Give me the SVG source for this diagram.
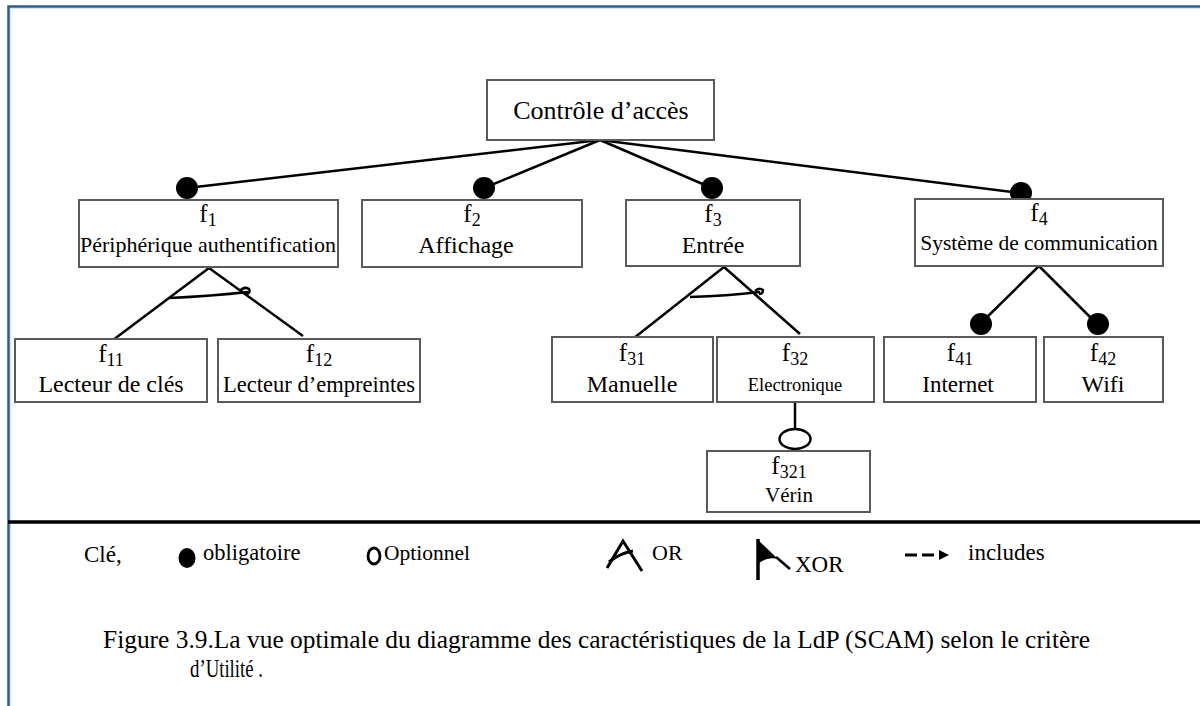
<svg xmlns="http://www.w3.org/2000/svg" width="1200" height="706" viewBox="0 0 1200 706">
  <style>
    .box { fill: #ffffff; stroke: #5a5a5a; stroke-width: 2; }
    .t { font-family: "Liberation Serif", "Times New Roman", serif; fill: #000; text-anchor: middle; }
    .f { font-size: 25px; }
    .sub { font-size: 18px; }
    .edge { stroke: #000; stroke-width: 2.5; fill: none; }
    .dot { fill: #000; }
    .leg { font-family: "Liberation Serif", "Times New Roman", serif; fill: #000; }
  </style>

  <!-- page frame -->
  <rect x="0" y="0" width="1200" height="706" fill="#ffffff"/>
  <path d="M8.5 706 V6.5 H1200" fill="none" stroke="#2f5996" stroke-width="2.5"/>
  <path d="M10.5 706 V8.5 H1200" fill="none" stroke="#d5e1f2" stroke-width="1"/>

  <!-- connectors -->
  <g id="connectors">
    <line class="edge" x1="600" y1="140" x2="187" y2="188"/>
    <line class="edge" x1="600" y1="140" x2="484" y2="188"/>
    <line class="edge" x1="600" y1="140" x2="712" y2="188"/>
    <line class="edge" x1="600" y1="140" x2="1020" y2="193"/>

    <!-- f1 OR group -->
    <line class="edge" x1="209" y1="268" x2="113" y2="340"/>
    <line class="edge" x1="209" y1="268" x2="303" y2="336"/>
    <path class="edge" d="M170 298 Q212 296 248 292"/>
    <path class="edge" stroke-width="2" d="M240 291 Q244 286 249 289 Q251 293 246 294"/>

    <!-- f3 OR group -->
    <line class="edge" x1="724" y1="267" x2="634" y2="338"/>
    <line class="edge" x1="724" y1="267" x2="800" y2="334"/>
    <path class="edge" d="M690 297 Q727 296 760 292"/>
    <path class="edge" stroke-width="2" d="M755 291 Q759 287 763 290 Q763 294 759 294"/>

    <!-- f4 mandatory children -->
    <line class="edge" x1="1039" y1="266" x2="981" y2="323"/>
    <line class="edge" x1="1039" y1="266" x2="1097" y2="324"/>

    <!-- f32 optional child -->
    <line class="edge" x1="795" y1="402" x2="795" y2="430"/>

    <circle class="dot" cx="187" cy="188" r="11"/>
    <circle class="dot" cx="484" cy="188" r="11"/>
    <circle class="dot" cx="712" cy="188" r="11"/>
    <circle class="dot" cx="1021" cy="193" r="11"/>
    <circle class="dot" cx="981" cy="324" r="11"/>
    <circle class="dot" cx="1098" cy="324" r="11"/>
    <ellipse cx="795" cy="439" rx="15.5" ry="10" fill="#fff" stroke="#000" stroke-width="2.5"/>
  </g>

  <!-- root -->
  <g id="root">
    <rect class="box" x="487" y="80" width="227" height="60"/>
    <text class="t" x="601" y="119" font-size="26">Contrôle d’accès</text>
  </g>

  <g id="f1">
    <rect class="box" x="79" y="200" width="259" height="67"/>
    <text class="t f" x="208" y="222">f<tspan class="sub" dy="4">1</tspan></text>
    <text class="t" x="208" y="252" font-size="22">Périphérique authentification</text>
  </g>

  <g id="f2">
    <rect class="box" x="362" y="200" width="220" height="67"/>
    <text class="t f" x="472" y="222">f<tspan class="sub" dy="4">2</tspan></text>
    <text class="t" x="466" y="253" font-size="24">Affichage</text>
  </g>

  <g id="f3">
    <rect class="box" x="626" y="200" width="174" height="66"/>
    <text class="t f" x="713" y="222">f<tspan class="sub" dy="4">3</tspan></text>
    <text class="t" x="713" y="253" font-size="24">Entrée</text>
  </g>

  <g id="f4">
    <rect class="box" x="915" y="199" width="248" height="67"/>
    <text class="t f" x="1039" y="221">f<tspan class="sub" dy="4">4</tspan></text>
    <text class="t" x="1039" y="250" font-size="21.5">Système de communication</text>
  </g>

  <g id="f11">
    <rect class="box" x="15" y="339" width="192" height="63"/>
    <text class="t f" x="111" y="362">f<tspan class="sub" dy="4">11</tspan></text>
    <text class="t" x="111" y="392" font-size="24">Lecteur de clés</text>
  </g>

  <g id="f12">
    <rect class="box" x="218" y="339" width="202" height="63"/>
    <text class="t f" x="319" y="362">f<tspan class="sub" dy="4">12</tspan></text>
    <text class="t" x="319" y="392" font-size="22.5">Lecteur d’empreintes</text>
  </g>

  <g id="f31">
    <rect class="box" x="552" y="337" width="161" height="65"/>
    <text class="t f" x="632" y="361">f<tspan class="sub" dy="4">31</tspan></text>
    <text class="t" x="632" y="392" font-size="24">Manuelle</text>
  </g>

  <g id="f32">
    <rect class="box" x="717" y="337" width="157" height="65"/>
    <text class="t f" x="795" y="361">f<tspan class="sub" dy="4">32</tspan></text>
    <text class="t" x="795" y="391" font-size="18.5">Electronique</text>
  </g>

  <g id="f41">
    <rect class="box" x="884" y="337" width="152" height="65"/>
    <text class="t f" x="960" y="361">f<tspan class="sub" dy="4">41</tspan></text>
    <text class="t" x="958" y="392" font-size="23">Internet</text>
  </g>

  <g id="f42">
    <rect class="box" x="1044" y="337" width="119" height="65"/>
    <text class="t f" x="1103" y="361">f<tspan class="sub" dy="4">42</tspan></text>
    <text class="t" x="1103" y="392" font-size="24">Wifi</text>
  </g>

  <g id="f321">
    <rect class="box" x="707" y="451" width="163" height="61"/>
    <text class="t f" x="789" y="474">f<tspan class="sub" dy="4">321</tspan></text>
    <text class="t" x="789" y="502" font-size="21">Vérin</text>
  </g>

  <!-- separator -->
  <line x1="8" y1="522" x2="1200" y2="522" stroke="#000" stroke-width="3.5"/>

  <!-- key -->
  <g id="legend">
    <text class="leg" x="84" y="562" font-size="23">Clé,</text>
    <ellipse cx="187" cy="558" rx="8.5" ry="10" fill="#000"/>
    <text class="leg" x="203" y="560" font-size="22.5">obligatoire</text>
    <ellipse cx="374" cy="556" rx="6" ry="8" fill="none" stroke="#000" stroke-width="2.8"/>
    <text class="leg" x="384" y="560" font-size="21.5">Optionnel</text>

    <!-- OR glyph -->
    <path d="M607 568 L623 541 L642 571" fill="none" stroke="#000" stroke-width="3"/>
    <path d="M609 562 Q620 553 633 551" fill="none" stroke="#000" stroke-width="3"/>
    <text class="leg" x="652" y="560" font-size="22">OR</text>

    <!-- XOR glyph -->
    <line x1="758" y1="539" x2="758" y2="580" stroke="#000" stroke-width="3.5"/>
    <path d="M758 540 L778 559 Q767 556 758 564 Z" fill="#000"/>
    <line x1="776" y1="557" x2="790" y2="569" stroke="#000" stroke-width="2.5"/>
    <text class="leg" x="795" y="572" font-size="23">XOR</text>

    <!-- includes glyph -->
    <line x1="905" y1="555" x2="917" y2="555" stroke="#000" stroke-width="3"/>
    <line x1="922" y1="555" x2="934" y2="555" stroke="#000" stroke-width="3"/>
    <path d="M939 550 L949 555 L939 560 Z" fill="#000"/>
    <text class="leg" x="968" y="560" font-size="23">includes</text>
  </g>

  <!-- caption -->
  <text class="leg" x="103" y="648" font-size="25" textLength="987" lengthAdjust="spacingAndGlyphs">Figure 3.9.La vue optimale du diagramme des caractéristiques de la LdP (SCAM) selon le critère</text>
  <text class="leg" x="190" y="677" font-size="25" textLength="73" lengthAdjust="spacingAndGlyphs">d’Utilité .</text>
</svg>
